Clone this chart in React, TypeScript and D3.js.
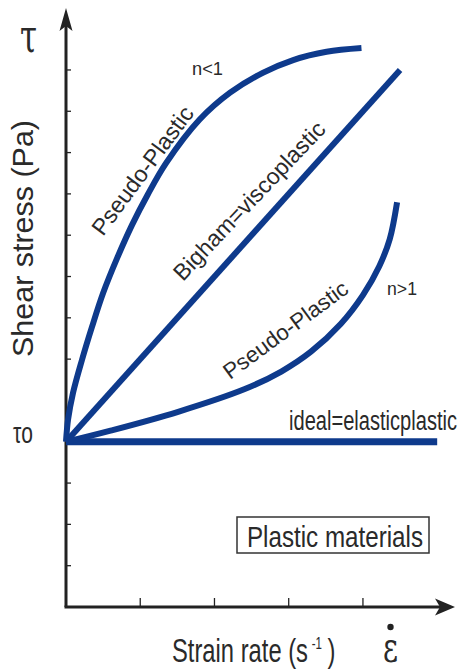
import React from "react";
import * as d3 from "d3";

const W = 462;
const H = 670;

// data (x = strain rate units, y = shear stress units, tau0 = 0)
const pseudoN1X = [0, 0.027, 0.094, 0.215, 0.35, 0.5, 0.69, 0.89, 1.1, 1.35, 1.8, 2.21, 2.65, 3.06, 3.51, 3.98];
const pseudoN1Y = [0, 0.53, 1.18, 1.98, 2.78, 3.6, 4.45, 5.25, 5.98, 6.75, 7.8, 8.45, 8.93, 9.24, 9.44, 9.53];
const binghamX = [0, 4.5];
const binghamY = [0, 9.0];
const dilatantX = [0, 0.6, 1.5, 2.4, 2.9, 3.3, 3.7, 4.0, 4.22, 4.36, 4.46];
const dilatantY = [0, 0.27, 0.72, 1.27, 1.7, 2.18, 2.85, 3.55, 4.25, 4.9, 5.8];
const idealX = [0, 5.0];
const idealY = [0, 0];
const yTicks = [-3, -2, -1, 2, 3, 4, 5, 6, 7, 8, 9];
const xTicks = [1, 2, 3, 4];

const BLUE = "#0e3a8c";
const AXIS = "#222";
const TEXT = "#2a2a2a";
const FONT = "'Liberation Sans', Arial, Helvetica, sans-serif";

export default function App() {
  const x = d3.scaleLinear().domain([0, 5.24]).range([66, 455]);
  const y = d3.scaleLinear().domain([-4, 10.5]).range([607, 8]);

  const line = d3
    .line<[number, number]>()
    .x((d) => x(d[0]))
    .y((d) => y(d[1]))
    .curve(d3.curveCatmullRom.alpha(0.5));
  const straight = d3
    .line<[number, number]>()
    .x((d) => x(d[0]))
    .y((d) => y(d[1]));

  const zip = (a: number[], b: number[]) => a.map((v, i) => [v, b[i]] as [number, number]);

  const x0 = x(0);
  const yb = y(-4);
  const xEnd = x(5.24);
  const yTop = y(10.5);

  return (
    <svg
      width={W}
      height={H}
      style={{ position: "absolute", left: 0, top: 0, background: "#fff" }}
      fontFamily={FONT}
    >
      <rect width={W} height={H} fill="#fff" />
      {/* axes */}
      <line x1={x0} y1={yb} x2={x0} y2={yTop + 18} stroke={AXIS} strokeWidth={3} />
      <path d={`M${x0},${yTop} L${x0 - 6.5},${yTop + 23} L${x0},${yTop + 18} L${x0 + 6.5},${yTop + 23} Z`} fill={AXIS} />
      <line x1={x0 - 1.5} y1={yb} x2={xEnd - 14} y2={yb} stroke={AXIS} strokeWidth={3} />
      <path d={`M${xEnd},${yb} L${xEnd - 20},${yb - 8.5} L${xEnd - 15},${yb} L${xEnd - 20},${yb + 8.5} Z`} fill={AXIS} />
      {yTicks.map((t) => (
        <line key={"y" + t} x1={x0} x2={x0 + 5} y1={y(t)} y2={y(t)} stroke={AXIS} strokeWidth={1.3} />
      ))}
      {xTicks.map((t) => (
        <line key={"x" + t} x1={x(t)} x2={x(t)} y1={yb} y2={yb - 9} stroke={AXIS} strokeWidth={1.3} />
      ))}

      {/* curves */}
      <path d={straight(zip(idealX, idealY)) || ""} fill="none" stroke={BLUE} strokeWidth={7} />
      <path d={straight(zip(binghamX, binghamY)) || ""} fill="none" stroke={BLUE} strokeWidth={6} />
      <path d={line(zip(pseudoN1X, pseudoN1Y)) || ""} fill="none" stroke={BLUE} strokeWidth={6} />
      <path d={line(zip(dilatantX, dilatantY)) || ""} fill="none" stroke={BLUE} strokeWidth={6} />

      {/* axis labels */}
      <g transform="translate(20,52) scale(1,1.35)">
        <text fontSize={34} fill={TEXT} textLength={17} lengthAdjust="spacingAndGlyphs" fontFamily="'DejaVu Serif', serif">τ</text>
      </g>
      <g transform="translate(13,443) scale(1,1.3)">
        <text fontSize={22} fill={TEXT} textLength={20} lengthAdjust="spacingAndGlyphs">τo</text>
      </g>
      <text
        transform="translate(33,238.5) rotate(-90)"
        textAnchor="middle"
        fontSize={30}
        fill={TEXT}
        textLength={237}
        lengthAdjust="spacingAndGlyphs"
      >
        Shear stress (Pa)
      </text>
      <g transform="translate(172,662) scale(0.72,1)">
        <text x={0} y={0} fontSize={33} fill={TEXT}>
          Strain rate (s
          <tspan x={194} y={-13} fontSize={16}>-1</tspan>
          <tspan x={216} y={0}>)</tspan>
        </text>
      </g>
      <g transform="translate(383,662) scale(1,1.4)">
        <text fontSize={30} fill={TEXT} textLength={15} lengthAdjust="spacingAndGlyphs" fontFamily="'DejaVu Serif', serif">ε</text>
      </g>
      <circle cx={390.5} cy={627} r={3.2} fill="#222" />

      {/* curve labels */}
      <text x={192} y={75} fontSize={19} fill={TEXT} textLength={31} lengthAdjust="spacingAndGlyphs">n&lt;1</text>
      <text x={387} y={295} fontSize={19} fill={TEXT} textLength={30} lengthAdjust="spacingAndGlyphs">n&gt;1</text>
      <text x={289} y={430} fontSize={27} fill={TEXT} textLength={168} lengthAdjust="spacingAndGlyphs">ideal=elasticplastic</text>
      <text transform="translate(103,237) rotate(-53.4)" fontSize={23} fill={TEXT} textLength={154} lengthAdjust="spacingAndGlyphs">Pseudo-Plastic</text>
      <text transform="translate(183,282) rotate(-46.5)" fontSize={23} fill={TEXT} textLength={209} lengthAdjust="spacingAndGlyphs">Bigham=viscoplastic</text>
      <text transform="translate(230,380) rotate(-36.3)" fontSize={22} fill={TEXT} textLength={149} lengthAdjust="spacingAndGlyphs">Pseudo-Plastic</text>

      {/* box label */}
      <rect x={237} y={517} width={192} height={36} fill="none" stroke="#333" strokeWidth={1.5} />
      <text x={247} y={547} fontSize={30} fill={TEXT} textLength={176} lengthAdjust="spacingAndGlyphs">Plastic materials</text>
    </svg>
  );
}
